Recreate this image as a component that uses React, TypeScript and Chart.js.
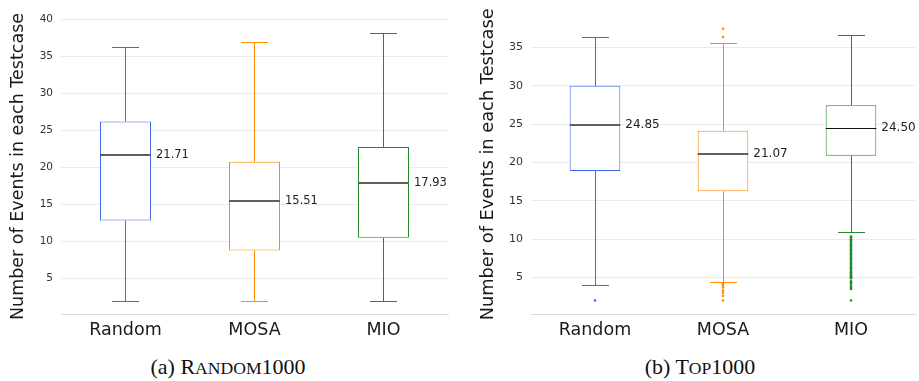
import React, { useEffect, useRef } from 'react';
import { Chart, registerables } from 'chart.js';

Chart.register(...registerables);

// ---------- shared ----------
const categories = ['Random', 'MOSA', 'MIO'];
const boxColors = ['#4169E1', '#FF8C00', '#228B22'];
const yAxisTitle = 'Number of Events in each Testcase';

// ---------- (a) Random1000 ----------
const randMin = [2.0, 2.0, 2.0];
const randQ1 = [12.86, 8.8, 10.5];
const randMedian = [21.71, 15.51, 17.93];
const randQ3 = [26.25, 20.8, 22.8];
const randMax = [36.28, 36.96, 38.25];
const randOutRandom: number[] = [];
const randOutMosa: number[] = [];
const randOutMio: number[] = [];
const randTicks = [5, 10, 15, 20, 25, 30, 35, 40];
const randMedianColors = ['#5f5f5f', '#5f5f5f', '#5f5f5f'];

// ---------- (b) Top1000 ----------
const topMin = [3.96, 4.43, 10.9];
const topQ1 = [18.88, 16.26, 20.87];
const topMedian = [24.85, 21.07, 24.5];
const topQ3 = [30.0, 24.13, 27.47];
const topMax = [36.43, 35.57, 36.65];
const topOutRandom = [2.0];
const topOutMosa = [37.45, 36.38, 4.2, 4.0, 3.7, 3.3, 3.0, 2.6, 2.0];
const topOutMio = [
  10.33, 10.17, 10.0, 9.83, 9.67, 9.5, 9.33, 9.17, 9.0, 8.83, 8.67, 8.5, 8.33,
  8.17, 8.0, 7.83, 7.67, 7.5, 7.33, 7.17, 7.0, 6.83, 6.67, 6.5, 6.33, 6.17, 6.0,
  5.83, 5.67, 5.5, 5.33, 5.17, 5.0, 4.88, 4.5, 4.33, 4.17, 3.88, 3.67, 3.5, 2.0,
];
const topTicks = [5, 10, 15, 20, 25, 30, 35];
const topMedianColors = ['#5f5f5f', '#5f5f5f', '#111111'];

const FONT = 'DejaVu Sans';

type Panel = {
  min: number[];
  q1: number[];
  median: number[];
  q3: number[];
  max: number[];
  outliers: number[][];
  medianColors: string[];
  medianWidths: number[];
  ticks: number[];
  yMin: number;
  yMax: number;
  width: number;
  height: number;
  axisWidth: number;
  padTop: number;
  padRight: number;
  titlePad: number;
  titleSize: number;
  tickSize: number;
  labelSize: number;
  valueSize: number;
};

const panelA: Panel = {
  min: randMin, q1: randQ1, median: randMedian, q3: randQ3, max: randMax,
  outliers: [randOutRandom, randOutMosa, randOutMio],
  medianColors: randMedianColors, medianWidths: [2, 2, 2],
  ticks: randTicks, yMin: 0.2, yMax: 40.1,
  width: 460, height: 345, axisWidth: 61, padTop: 19, padRight: 12,
  titlePad: 8, titleSize: 17.5, tickSize: 10.5, labelSize: 17.5, valueSize: 11.5,
};

const panelB: Panel = {
  min: topMin, q1: topQ1, median: topMedian, q3: topQ3, max: topMax,
  outliers: [topOutRandom, topOutMosa, topOutMio],
  medianColors: topMedianColors, medianWidths: [2, 2, 1],
  ticks: topTicks, yMin: 0.23, yMax: 39.3,
  width: 459, height: 345, axisWidth: 71, padTop: 14, padRight: 1,
  titlePad: 18, titleSize: 17.8, tickSize: 11, labelSize: 17.5, valueSize: 12,
};

function BoxChart({ panel }: { panel: Panel }) {
  const ref = useRef<HTMLCanvasElement | null>(null);
  useEffect(() => {
    if (!ref.current) return;
    const p = panel;
    const whiskerPlugin = {
      id: 'whiskers',
      afterDatasetsDraw(chart: any) {
        const ctx = chart.ctx;
        const xs = chart.scales.x;
        const ys = chart.scales.y;
        const catW = xs.getPixelForValue(1) - xs.getPixelForValue(0);
        const capHalf = catW * 0.105;
        const boxHalf = (catW * 51) / 129 / 2;
        const line = (x1: number, y1: number, x2: number, y2: number) => {
          ctx.beginPath();
          ctx.moveTo(x1, y1);
          ctx.lineTo(x2, y2);
          ctx.stroke();
        };
        ctx.save();
        ctx.globalAlpha = 1;
        ctx.setLineDash([]);
        categories.forEach((_c, i) => {
          const cx = xs.getPixelForValue(i);
          const x = Math.floor(cx) + 0.5;
          const yMax = Math.round(ys.getPixelForValue(p.max[i])) + 0.5;
          const yMin = Math.round(ys.getPixelForValue(p.min[i])) + 0.5;
          const yQ1 = ys.getPixelForValue(p.q1[i]);
          const yQ3 = ys.getPixelForValue(p.q3[i]);
          const yMed = ys.getPixelForValue(p.median[i]);
          ctx.strokeStyle = boxColors[i];
          ctx.lineWidth = 1;
          line(x, yQ3, x, yMax);
          line(x, yQ1, x, yMin);
          line(Math.round(x - capHalf), yMax, Math.round(x + capHalf), yMax);
          line(Math.round(x - capHalf), yMin, Math.round(x + capHalf), yMin);
          ctx.strokeStyle = p.medianColors[i];
          ctx.lineWidth = p.medianWidths[i];
          const ym = p.medianWidths[i] === 1 ? Math.round(yMed) + 0.5 : Math.round(yMed);
          line(cx - boxHalf, ym, cx + boxHalf, ym);
          ctx.fillStyle = '#222222';
          ctx.font = `${p.valueSize}px "${FONT}"`;
          ctx.textAlign = 'left';
          ctx.textBaseline = 'middle';
          ctx.fillText(p.median[i].toFixed(2), cx + boxHalf + 5, yMed);
        });
        ctx.restore();
      },
    };

    const chart = new Chart(ref.current, {
      type: 'bar',
      data: {
        labels: categories,
        datasets: [
          {
            type: 'bar',
            data: p.q1.map((v, i) => [v, p.q3[i]]) as any,
            backgroundColor: '#ffffff',
            borderColor: boxColors,
            borderWidth: 1,
            borderSkipped: false,
            barPercentage: 51 / 129,
            categoryPercentage: 1,
          } as any,
          ...p.outliers.map((vals, i) => ({
            type: 'line',
            data: vals.map((v) => ({ x: categories[i], y: v })),
            showLine: false,
            pointRadius: 1.3,
            pointBorderWidth: 0,
            pointBackgroundColor: boxColors[i],
            pointBorderColor: boxColors[i],
          } as any)),
        ],
      },
      options: {
        responsive: false,
        animation: false,
        devicePixelRatio: 1,
        layout: { padding: { top: p.padTop, right: p.padRight, left: 0, bottom: 0 } },
        plugins: { legend: { display: false }, tooltip: { enabled: false } },
        scales: {
          x: {
            type: 'category',
            offset: true,
            grid: { display: false },
            border: { display: true, color: '#dcdcdc', width: 1 },
            ticks: { font: { family: FONT, size: p.labelSize }, color: '#1a1a1a', padding: -2 },
            afterFit: (s: any) => { s.height = p.height - 314; },
          },
          y: {
            type: 'linear',
            min: p.yMin,
            max: p.yMax,
            grid: { color: '#ebebeb', lineWidth: 1, drawTicks: false },
            border: { display: false },
            ticks: { font: { family: FONT, size: p.tickSize }, color: '#333333', padding: 8 },
            afterBuildTicks: (s: any) => { s.ticks = p.ticks.map((v) => ({ value: v })); },
            afterFit: (s: any) => { s.width = p.axisWidth; },
            title: {
              display: true,
              text: yAxisTitle,
              font: { family: FONT, size: p.titleSize },
              color: '#1a1a1a',
              padding: { top: p.titlePad, bottom: 0 },
            },
          },
        },
      } as any,
      plugins: [whiskerPlugin],
    });
    return () => chart.destroy();
  }, [panel]);
  return <canvas ref={ref} width={panel.width} height={panel.height} style={{ display: 'block', width: panel.width, height: panel.height }} />;
}

const captionStyle: React.CSSProperties = {
  position: 'absolute',
  width: 300,
  textAlign: 'center',
  fontFamily: '"Liberation Serif", "Times New Roman", serif',
  fontSize: 22,
  lineHeight: '22px',
  color: '#111',
  top: 356,
};

export default function App() {
  return (
    <div style={{ position: 'fixed', left: 0, top: 0, width: 919, height: 381, background: '#fff', overflow: 'hidden' }}>
      <div style={{ position: 'absolute', left: 0, top: 0 }}>
        <BoxChart panel={panelA} />
      </div>
      <div style={{ position: 'absolute', left: 460, top: 0 }}>
        <BoxChart panel={panelB} />
      </div>
      <div style={{ ...captionStyle, left: 228 - 150 }}>
        (a) R<span style={{ fontSize: 17.6 }}>ANDOM</span>1000
      </div>
      <div style={{ ...captionStyle, left: 700 - 150 }}>
        (b) T<span style={{ fontSize: 17.6 }}>OP</span>1000
      </div>
    </div>
  );
}
